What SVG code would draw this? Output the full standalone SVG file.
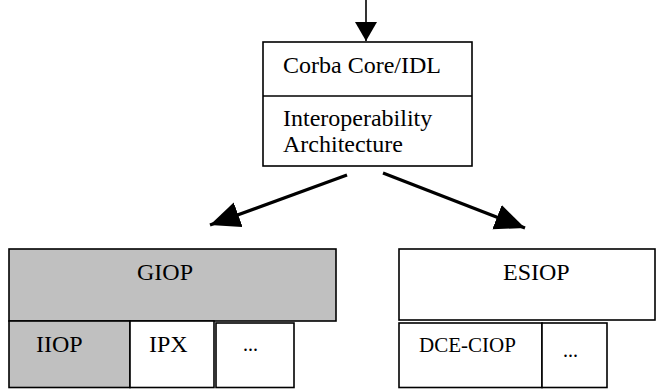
<svg xmlns="http://www.w3.org/2000/svg" width="656" height="390" viewBox="0 0 656 390">
<style>
.b{fill:#fff;stroke:#000;stroke-width:1.6}
.g{fill:#c0c0c0;stroke:#000;stroke-width:1.6}
text{font-family:"Liberation Serif","Times New Roman",serif;font-size:24px;fill:#000}
.s{font-size:21px}
.d{font-size:20px}
.l{stroke:#000;stroke-width:3.2;fill:none}
</style>
<defs>
<marker id="ah" markerUnits="userSpaceOnUse" markerWidth="32" markerHeight="28" refX="30" refY="13" orient="auto"><path d="M0,0 L30,13 L0,26 Z" fill="#000"/></marker>
<marker id="ah2" markerUnits="userSpaceOnUse" markerWidth="24" markerHeight="24" refX="19" refY="11" orient="auto"><path d="M0,0 L19,11 L0,22 Z" fill="#000"/></marker>
</defs>
<g id="connectors">
<line x1="366" y1="0" x2="366" y2="41" stroke="#000" stroke-width="1.6" marker-end="url(#ah2)"/>
<line class="l" x1="347" y1="175" x2="210" y2="225" marker-end="url(#ah)"/>
<line class="l" x1="383" y1="173" x2="525" y2="228" marker-end="url(#ah)"/>
</g>
<g id="core">
<rect class="b" x="263" y="42" width="209" height="124"/>
<line x1="263" y1="96" x2="472" y2="96" stroke="#000" stroke-width="1.6"/>
<text x="283" y="73">Corba Core/IDL</text>
<text x="283" y="126">Interoperability</text>
<text x="283" y="152">Architecture</text>
</g>
<g id="giop">
<rect class="g" x="9" y="249" width="327" height="72"/>
<text x="137" y="280">GIOP</text>
</g>
<g id="iiop">
<rect class="g" x="9" y="321" width="121" height="66.5"/>
<text x="36" y="352">IIOP</text>
</g>
<g id="ipx">
<rect class="b" x="130" y="321" width="84" height="66.5"/>
<text x="149" y="352">IPX</text>
</g>
<g id="giop-more">
<rect class="b" x="216" y="323" width="78" height="64.5"/>
<text x="243" y="351" class="d">...</text>
</g>
<g id="esiop">
<rect class="b" x="399" y="249" width="256" height="71"/>
<text x="503" y="280">ESIOP</text>
</g>
<g id="dce">
<rect class="b" x="399" y="323" width="143" height="64.5"/>
<text x="419" y="352" class="s">DCE-CIOP</text>
</g>
<g id="esiop-more">
<rect class="b" x="542" y="323" width="65" height="64.5"/>
<text x="563" y="357" class="d">...</text>
</g>
</svg>
